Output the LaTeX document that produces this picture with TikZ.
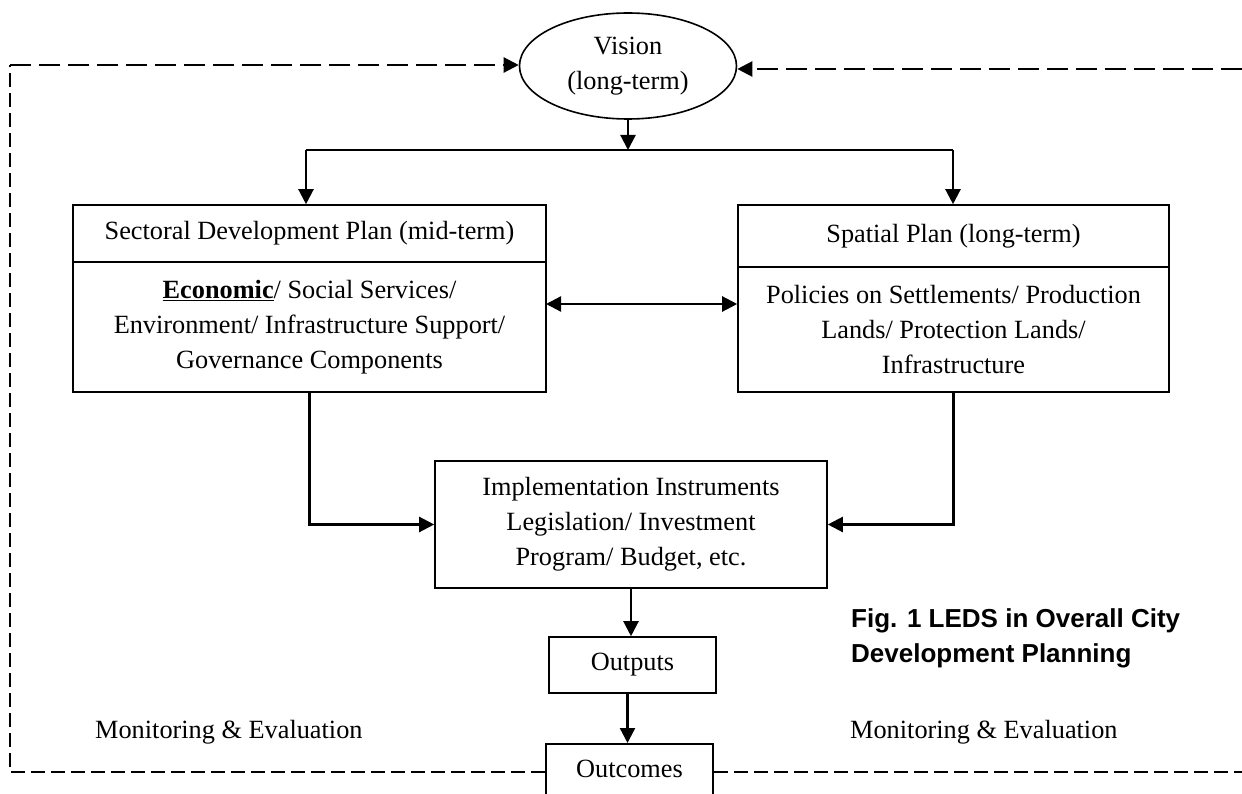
\documentclass[tikz,border=0pt]{standalone}
\usepackage{fontspec}
\setmainfont{Liberation Serif}
\newfontfamily\capfont{Liberation Sans}
\usetikzlibrary{arrows.meta,shapes.geometric,calc}
\begin{document}
\begin{tikzpicture}[x=1pt,y=-1pt,
  every node/.style={font=\fontsize{26.3}{35}\selectfont},
  box/.style={draw,line width=1.6pt,rectangle,inner sep=0pt,align=center},
  conn/.style={line width=2.3pt},
  arr/.style={line width=2.3pt,-{Triangle[length=15pt,width=15pt]}},
  darr/.style={line width=2.3pt,{Triangle[length=15pt,width=15pt]}-{Triangle[length=15pt,width=15pt]}},
  longdash/.style={line width=2.3pt,dash pattern=on 21pt off 8pt},
  shortdash/.style={line width=1.9pt,dash pattern=on 14pt off 6pt},
  lbl/.style={anchor=base west,inner sep=0pt},
  caption/.style={anchor=base west,inner sep=0pt,font=\capfont\bfseries\fontsize{26}{35}\selectfont}
]
\useasboundingbox (0,0) rectangle (1242,794);

% Nodes
\node[draw,ellipse,line width=1.6pt,minimum width=217pt,minimum height=106pt,inner sep=0pt,align=center] (vision) at (628,66) {Vision\\(long-term)};

\node[box,minimum width=473pt,minimum height=57pt] (sh) at (309.5,233.5) {Sectoral Development Plan (mid-term)};
\node[box,minimum width=473pt,minimum height=130pt] (sb) at (309.5,327) {\underline{\textbf{Economic}}/ Social Services/\\Environment/ Infrastructure Support/\\Governance Components};

\node[box,minimum width=431pt,minimum height=62pt] (ph) at (953.5,236) {Spatial Plan (long-term)};
\node[box,minimum width=431pt,minimum height=125pt] (pb) at (953.5,329.5) {Policies on Settlements/ Production\\Lands/ Protection Lands/\\Infrastructure};

\node[box,minimum width=392pt,minimum height=127pt] (impl) at (631,524.5) {Implementation Instruments\\Legislation/ Investment\\Program/ Budget, etc.};

\node[box,minimum width=167pt,minimum height=56pt] (outputs) at (632.5,665) {Outputs};
\node[box,anchor=north,minimum width=167pt,text height=34pt,text depth=40pt] (outcomes) at (629.5,743) {Outcomes};

\node[lbl] (me1) at (95,738) {Monitoring \& Evaluation};
\node[lbl] (me2) at (850,738) {Monitoring \& Evaluation};

\node[caption] (cap1) at (851,627) {Fig. 1 LEDS in Overall City};
\node[caption] (cap2) at (851,662) {Development Planning};

% Coordinates
\coordinate (split) at (628,150);
\coordinate (jl) at (306,150);
\coordinate (jr) at (953,150);
\coordinate (da) at (546,304);
\coordinate (lb) at (10,772);
\coordinate (lt) at (10,65);
\coordinate (rb) at (1242,772);
\coordinate (rt) at (1242,69);

% Connectors
\draw[arr] (vision.south) -- (split);
\draw[line width=1.6pt] (jl) -- (jr);
\draw[arr] (jl) -- (jl |- sh.north);
\draw[arr] (jr) -- (jr |- ph.north);
\draw[darr] (da) -- (da -| pb.west);
\draw[conn,-{Triangle[length=15pt,width=15pt]}] (sb.south) -- (sb.south |- impl.west) -- (impl.west);
\draw[conn,-{Triangle[length=15pt,width=15pt]}] (pb.south) -- (pb.south |- impl.east) -- (impl.east);
\draw[arr] (impl.south) -- (impl.south |- outputs.north);
\draw[arr] ([xshift=-5pt]outputs.south) -- ([xshift=-5pt]outputs.south |- outcomes.north);

% Feedback loops
\draw[shortdash] (lb -| outcomes.west) -- (lb) -- (lt);
\draw[longdash,-{Triangle[length=15pt,width=15pt]}] (lt) -- (lt -| vision.west);
\draw[shortdash] (rb -| outcomes.east) -- (rb);
\draw[longdash,-{Triangle[length=15pt,width=15pt]}] (rt) -- (rt -| vision.east);
\end{tikzpicture}
\end{document}
